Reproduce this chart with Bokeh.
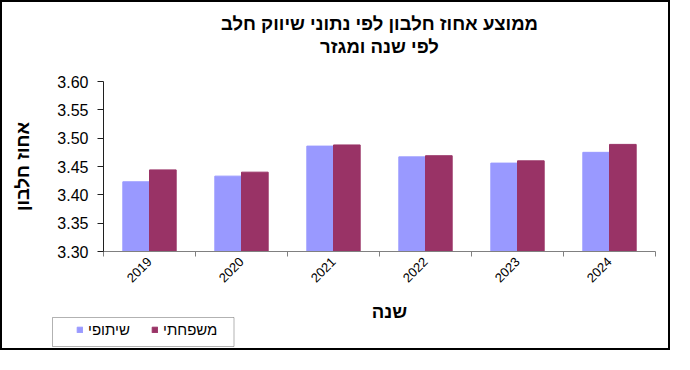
import math
from bokeh.plotting import figure
from bokeh.models import (ColumnDataSource, FixedTicker, Legend, LegendItem,
                          Range1d, NumeralTickFormatter, Label, BoxAnnotation)
from bokeh.embed import file_html
from bokeh.resources import INLINE

# ---- data ----
years = ["2019", "2020", "2021", "2022", "2023", "2024"]
shitufi = [3.423, 3.433, 3.486, 3.467, 3.456, 3.475]      # שיתופי
mishpachti = [3.444, 3.440, 3.488, 3.469, 3.460, 3.489]   # משפחתי
y_ticks = [3.30, 3.35, 3.40, 3.45, 3.50, 3.55, 3.60]
series_names = ["שיתופי", "משפחתי"]
title_lines = ["ממוצע אחוז חלבון לפי נתוני שיווק חלב", "לפי שנה ומגזר"]
y_title = "אחוז חלבון"
x_title = "שנה"

FONT = "Liberation Sans"
BLUE = "#9999FF"
RED = "#993366"

# ---- layout (canvas pixels) ----
W, H = 670, 350
PL, PR, PT, PB = 101, 653, 79, 249       # plot area edges inside the canvas

n = len(years)
ymin, ymax = y_ticks[0], y_ticks[-1]
kx = (PR - PL) / n                        # px per category
ky = (PB - PT) / (ymax - ymin)            # px per unit


def dx(px):
    return (px - PL) / kx


def dy(py):
    return ymin + (PB - py) / ky


bw = 0.29
centers = [i + 0.5 for i in range(n)]
src = ColumnDataSource(dict(
    xb=[c - bw / 2 for c in centers],
    xr=[c + bw / 2 for c in centers],
    b=shitufi,
    r=mishpachti,
))

p = figure(width=W, height=H, output_backend="svg", toolbar_location=None,
           x_range=Range1d(dx(0), dx(W)), y_range=Range1d(dy(H), dy(0)),
           min_border=0, min_border_left=0, min_border_right=0,
           min_border_top=0, min_border_bottom=0)
p.title.visible = False
p.styles = {"border": "2px solid black"}
p.outline_line_color = None
p.xgrid.grid_line_color = None
p.ygrid.grid_line_color = None
p.background_fill_color = "white"
p.border_fill_color = "white"

rb = p.vbar(x="xb", top="b", bottom=ymin, width=bw, source=src,
            fill_color=BLUE, line_color=BLUE)
rr = p.vbar(x="xr", top="r", bottom=ymin, width=bw, source=src,
            fill_color=RED, line_color=RED)

# x axis (drawn at y = 3.30)
xa = p.xaxis[0]
xa.fixed_location = ymin
xa.bounds = (0, n)
xa.ticker = FixedTicker(ticks=centers, minor_ticks=list(range(n + 1)))
xa.major_label_overrides = {c: y for c, y in zip(centers, years)}
xa.major_label_orientation = math.pi / 4
xa.major_tick_out = 0
xa.major_tick_in = 0
xa.minor_tick_out = 5
xa.minor_tick_in = 0
xa.axis_line_color = "#808080"
xa.minor_tick_line_color = "#808080"
xa.major_label_text_font = FONT
xa.major_label_text_font_size = "13px"
xa.major_label_text_color = "black"
xa.major_label_standoff = 3

# y axis (drawn at x = 0)
ya = p.yaxis[0]
ya.fixed_location = 0
ya.bounds = (ymin, ymax)
ya.ticker = FixedTicker(ticks=y_ticks)
ya.formatter = NumeralTickFormatter(format="0.00")
ya.major_tick_out = 6
ya.major_tick_in = 0
ya.minor_tick_line_color = None
ya.axis_line_color = "#202020"
ya.major_tick_line_color = "#202020"
ya.major_label_text_font = FONT
ya.major_label_text_font_size = "16px"
ya.major_label_text_color = "black"
ya.major_label_standoff = 9

# titles
common = dict(text_font=FONT, text_font_size="18.5px", text_font_style="bold",
              text_color="black", text_align="center", text_baseline="middle")
p.add_layout(Label(x=dx(377), y=dy(21), text=title_lines[0], **common))
p.add_layout(Label(x=dx(377), y=dy(44), text=title_lines[1], **common))
p.add_layout(Label(x=dx(19.5), y=dy(164), text=y_title, angle=math.pi / 2, **common))
p.add_layout(Label(x=dx(387), y=dy(309), text=x_title, **common))

# legend box and legend
p.add_layout(BoxAnnotation(left=dx(50), right=dx(231.5), top=dy(315), bottom=dy(344),
                           fill_color="white", fill_alpha=1,
                           line_color="black", line_width=1, level="annotation"))
legend = Legend(items=[LegendItem(label=series_names[0], renderers=[rb]),
                       LegendItem(label=series_names[1], renderers=[rr])],
                orientation="horizontal", location=(74, H - 335.5),
                glyph_width=7, glyph_height=7, label_standoff=5,
                label_width=43, label_height=12, spacing=20, padding=0,
                margin=0, border_line_color=None,
                background_fill_alpha=0,
                label_text_font=FONT, label_text_font_size="15px",
                label_text_color="black")
p.add_layout(legend, "center")

open("out.html", "w").write(file_html(p, INLINE))
